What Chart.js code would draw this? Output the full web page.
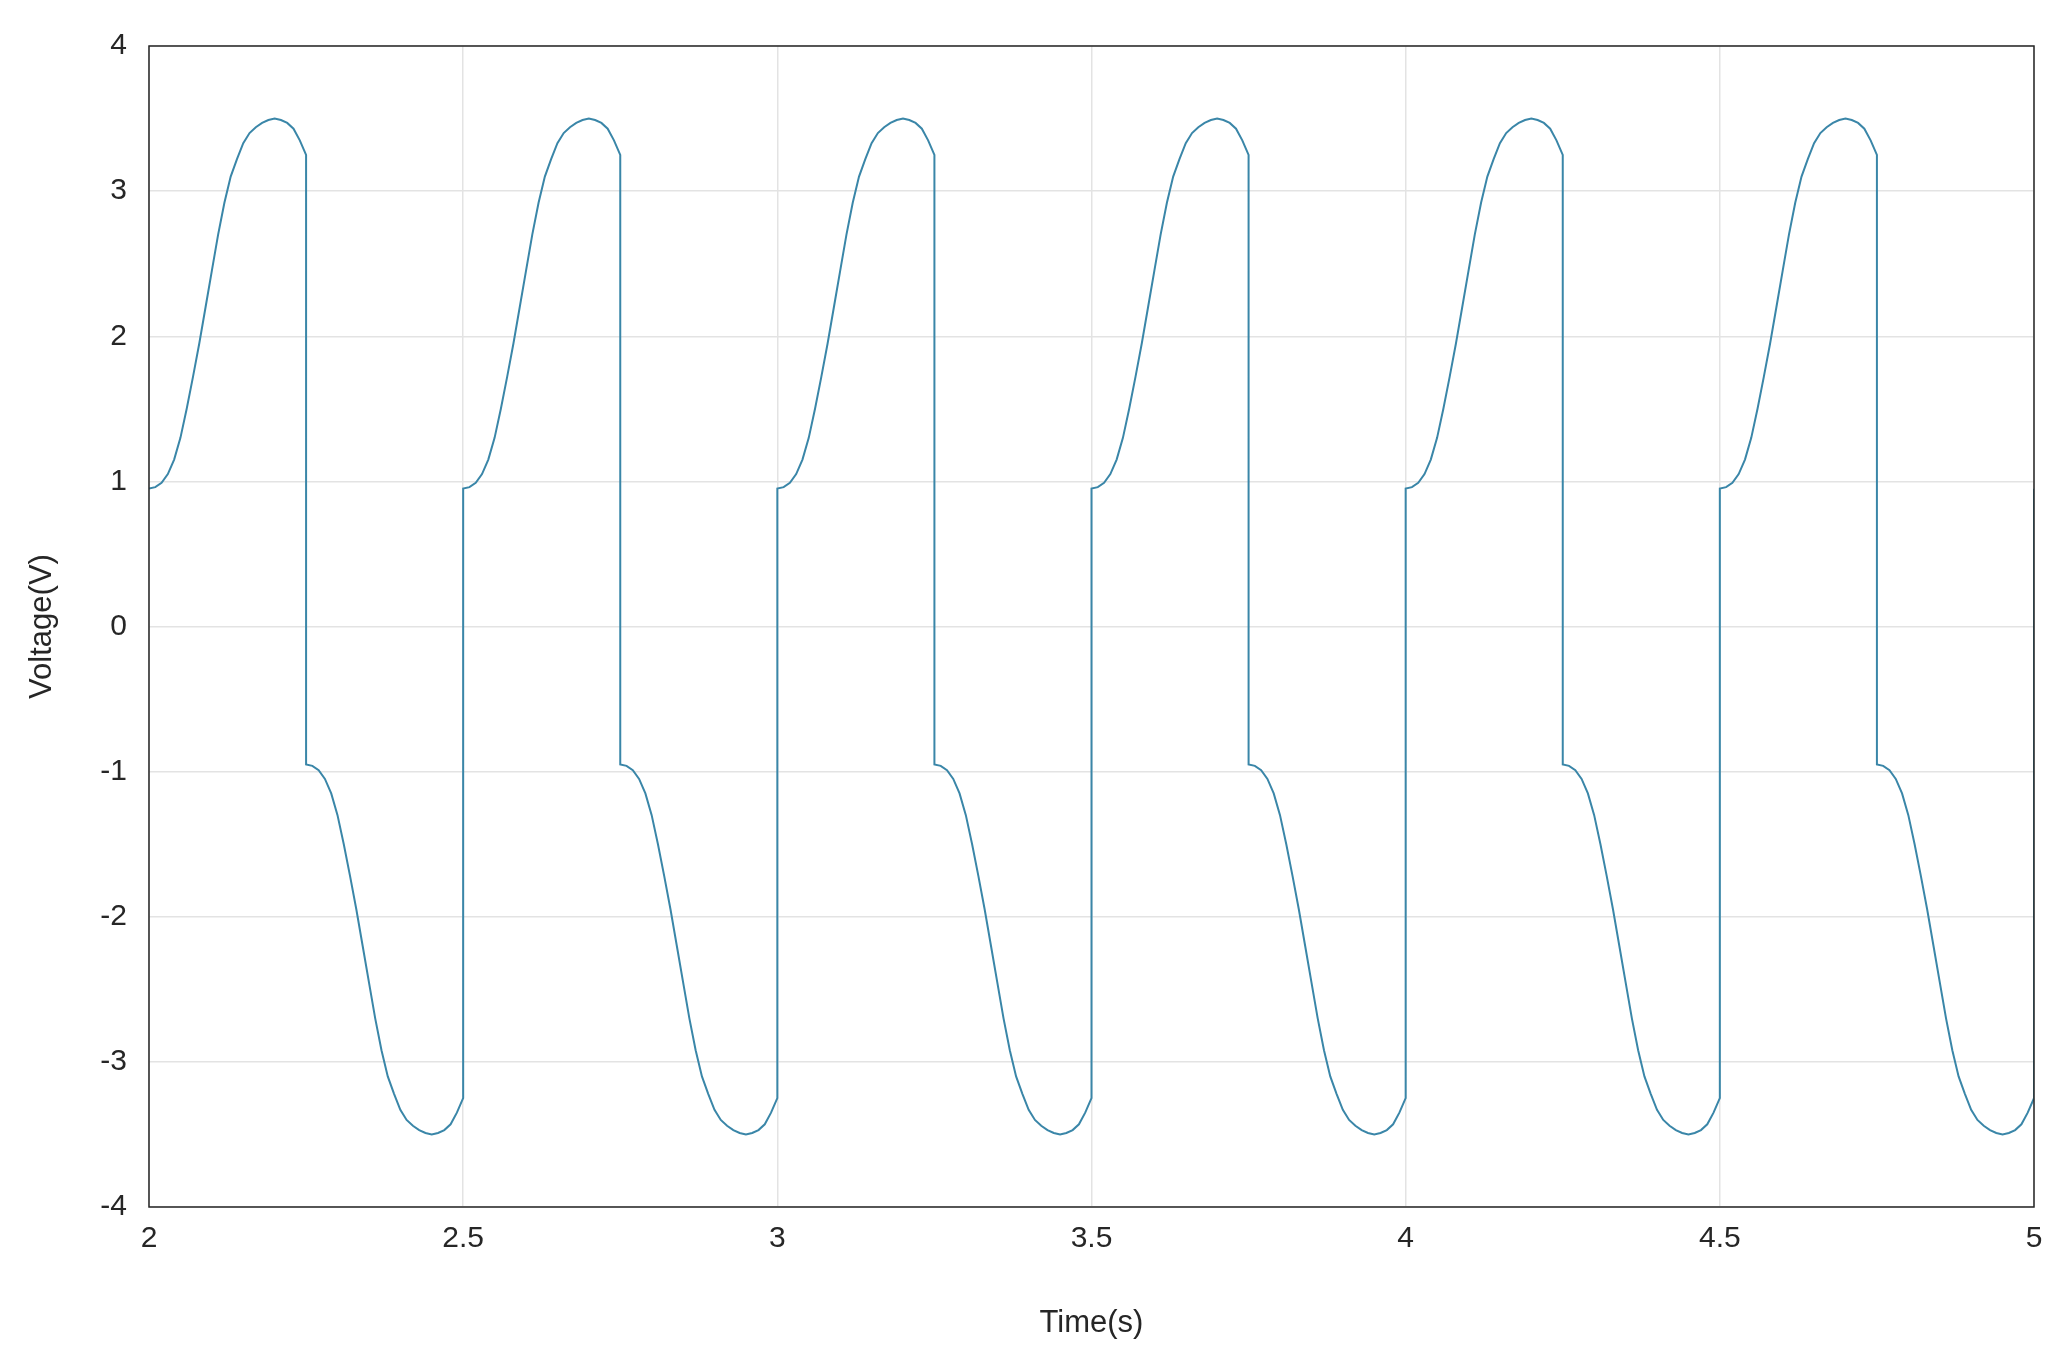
<!DOCTYPE html>
<html><head><meta charset="utf-8">
<script src="https://cdn.jsdelivr.net/npm/chart.js@4"></script>
<style>html,body{margin:0;padding:0;background:#fff}#w{width:2064px;height:1346px}</style>
</head><body><div id="w"><canvas id="c"></canvas></div>
<script>
// One half-period of the waveform (time offset s, voltage V)
const halfOffsets = [0,0.01,0.02,0.03,0.04,0.05,0.06,0.07,0.08,0.09,0.10,0.11,0.12,0.13,0.14,0.15,0.16,0.17,0.18,0.19,0.20,0.21,0.22,0.23,0.24,0.25];
const halfValues  = [0.95,0.96,0.99,1.05,1.15,1.3,1.5,1.72,1.95,2.2,2.45,2.7,2.92,3.1,3.22,3.33,3.4,3.44,3.47,3.49,3.5,3.49,3.47,3.43,3.35,3.25];
// start times of positive and negative half cycles
const posStarts = [2.0,2.5,3.0,3.5,4.0,4.5];
const negStarts = [2.25,2.75,3.25,3.75,4.25,4.75];
const endPoint = {x:5, y:0.95};
const xTicks = [2,2.5,3,3.5,4,4.5,5];
const yTicks = [-4,-3,-2,-1,0,1,2,3,4];

const pts = [];
posStarts.forEach((s,i)=>{
  halfOffsets.forEach((o,k)=>pts.push({x:s+o, y:halfValues[k]}));
  const n = negStarts[i];
  halfOffsets.forEach((o,k)=>pts.push({x:n+o, y:-halfValues[k]}));
});
pts.push(endPoint);

const frame = {id:'frame', afterDraw(c){const a=c.chartArea,x=c.ctx;x.save();x.strokeStyle='#262626';x.lineWidth=1.5;x.strokeRect(a.left,a.top,a.right-a.left,a.bottom-a.top);x.restore();}};
const font = {family:'Liberation Sans, Arial, sans-serif', size:30};
new Chart(document.getElementById('c'),{
  type:'line',
  data:{datasets:[{data:pts,borderColor:'#3a86a8',borderWidth:2,pointRadius:0,tension:0,fill:false}]},
  options:{responsive:true,maintainAspectRatio:false,animation:false,
    layout:{padding:{top:46,right:30,left:0,bottom:0}},
    plugins:{legend:{display:false},tooltip:{enabled:false}},
    scales:{
      x:{type:'linear',min:2,max:5,
        afterBuildTicks(s){s.ticks=xTicks.map(v=>({value:v}));},
        afterFit(s){s.height=139;},
        grid:{color:'#e3e3e3',lineWidth:1.5,drawTicks:false},
        border:{display:false},
        ticks:{color:'#262626',font,padding:14,autoSkip:false,maxRotation:0,callback:v=>String(v)},
        title:{display:true,text:'Time(s)',color:'#262626',font:{family:font.family,size:31},padding:{top:2}}},
      y:{type:'linear',min:-4,max:4,
        afterBuildTicks(s){s.ticks=yTicks.map(v=>({value:v}));},
        afterFit(s){s.width=149;},
        grid:{color:'#e3e3e3',lineWidth:1.5,drawTicks:false},
        border:{display:false},
        ticks:{color:'#262626',font,padding:22,autoSkip:false,callback:v=>String(v)},
        title:{display:true,text:'Voltage(V)',color:'#262626',font:{family:font.family,size:31},padding:{top:24,bottom:0}}}
    }},
  plugins:[frame]
});
</script></body></html>
